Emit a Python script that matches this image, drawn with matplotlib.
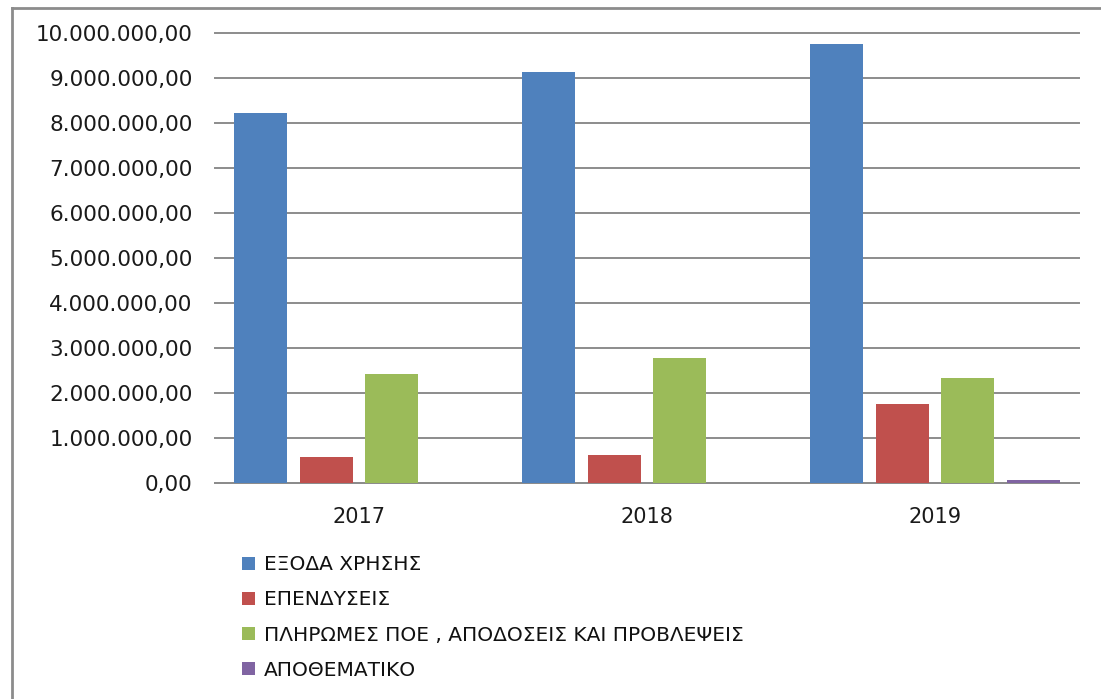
import matplotlib
matplotlib.use("Agg")
import matplotlib.pyplot as plt
from matplotlib.ticker import FuncFormatter
from matplotlib.lines import Line2D
import numpy as np

years = ["2017", "2018", "2019"]
series_names = ["ΕΞΟΔΑ ΧΡΗΣΗΣ", "ΕΠΕΝΔΥΣΕΙΣ",
                "ΠΛΗΡΩΜΕΣ ΠΟΕ , ΑΠΟΔΟΣΕΙΣ ΚΑΙ ΠΡΟΒΛΕΨΕΙΣ", "ΑΠΟΘΕΜΑΤΙΚΟ"]
exoda = [8230000, 9130000, 9760000]
ependyseis = [570000, 630000, 1750000]
pliromes = [2430000, 2780000, 2330000]
apothematiko = [0, 0, 60000]
colors = ["#4F81BD", "#C0504D", "#9BBB59", "#8064A2"]

plt.rcParams['font.family'] = ['DejaVu Sans']

fig = plt.figure(figsize=(11.01, 6.99), dpi=100)
ax = fig.add_axes([215/1101, 1-483/699, (1079-215)/1101, (483-33)/699])

x = np.arange(len(years))
step = 0.2275
width = 0.184
data = [exoda, ependyseis, pliromes, apothematiko]
handles = []
for i, (vals, name, c) in enumerate(zip(data, series_names, colors)):
    b = ax.bar(x + (i - 1.5) * step, vals, width, color=c, label=name, zorder=3)
    handles.append(b)

ax.set_xlim(-0.5, 2.5)
ax.set_ylim(0, 10000000)
ax.set_yticks(np.arange(0, 10000001, 1000000))

def fmt(v, pos):
    s = f"{v:,.2f}"
    return s.replace(",", "X").replace(".", ",").replace("X", ".")
ax.yaxis.set_major_formatter(FuncFormatter(fmt))
ax.set_xticks(x)
ax.set_xticklabels(years)
ax.tick_params(axis='y', length=0, pad=16, labelsize=15.5, labelcolor="#1a1a1a")
ax.tick_params(axis='x', length=0, pad=17, labelsize=15, labelcolor="#1a1a1a")
ax.grid(axis='y', color="#8c8c8c", linewidth=1.4, zorder=0)
for gl in ax.get_ygridlines():
    gl.set_clip_on(False)
for s in ["left", "right", "top"]:
    ax.spines[s].set_visible(False)
ax.spines["bottom"].set_color("#8c8c8c")
ax.spines["bottom"].set_linewidth(1.4)

leg = fig.legend(handles=handles, labels=series_names, loc="upper left",
                 bbox_to_anchor=(224/1101, 1-537/699), frameon=False,
                 fontsize=14.5, handlelength=0.62, handleheight=0.62,
                 handletextpad=0.45, labelspacing=0.81, labelcolor="#111111")

# chart border (top and left edges visible)
fig.add_artist(Line2D([12/1101, 1.0], [1-8/699, 1-8/699], transform=fig.transFigure,
                      color="#8c8c8c", linewidth=2))
fig.add_artist(Line2D([12/1101, 12/1101], [0, 1-8/699], transform=fig.transFigure,
                      color="#8c8c8c", linewidth=2))

fig.savefig("out.png", dpi=100)
